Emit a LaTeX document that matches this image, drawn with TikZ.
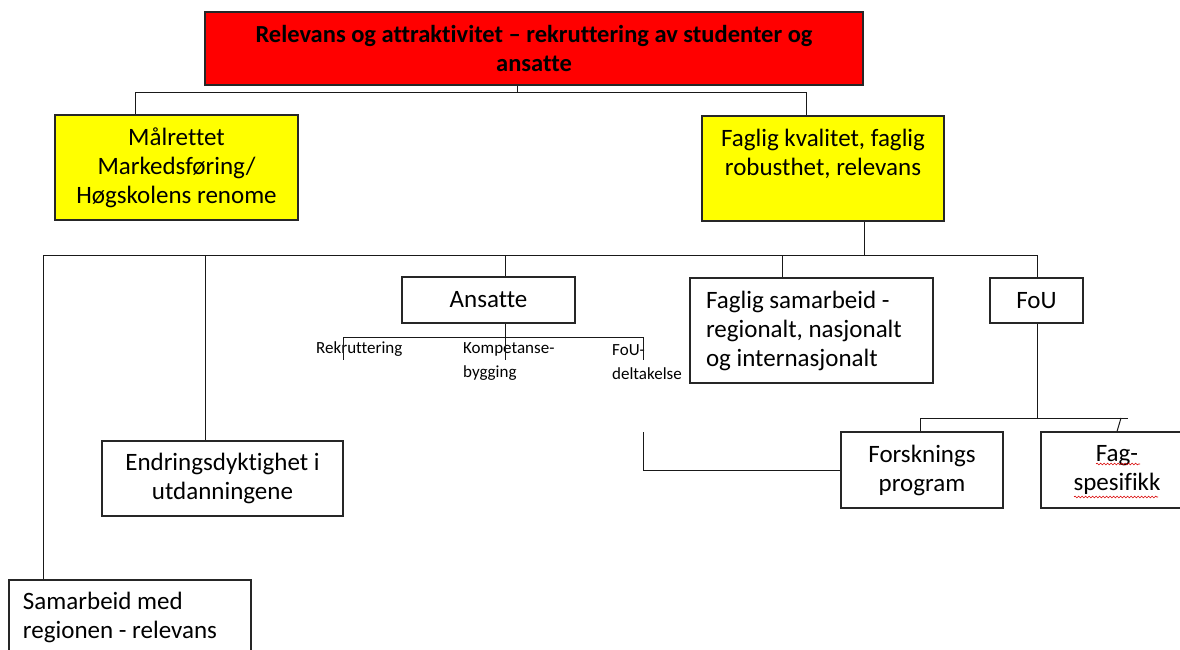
\documentclass[tikz,border=0pt]{standalone}
\usepackage{fontspec}
\setmainfont{Carlito}[Ligatures=NoCommon]
\usetikzlibrary{decorations.pathmorphing}
\definecolor{boxred}{HTML}{FF0000}
\definecolor{boxyellow}{HTML}{FFFF00}
\tikzset{
  box/.style={draw=black!85, line width=1.1pt, inner sep=0pt, align=center,
    font=\fontsize{25}{29}\selectfont},
  conn/.style={draw=black!90, line width=1pt},
  small/.style={inner sep=0pt, align=flush left, font=\fontsize{17}{24}\selectfont},
  squig/.style={draw=red!85!black, line width=0.6pt, decorate,
    decoration={snake, amplitude=0.9pt, segment length=3.5pt}}
}
\begin{document}
\begin{tikzpicture}[x=1pt,y=-1pt]
\useasboundingbox (0,0) rectangle (1180,650);
\fill[white] (0,0) rectangle (1180,650);
\clip (0,0) rectangle (1180,650);

% nodes
\node[box, fill=boxred, minimum width=658, minimum height=73,
  font=\fontsize{24.5}{29}\selectfont\bfseries] (red) at (534,48.5)
  {Relevans og attraktivitet – rekruttering av studenter og\\ansatte};
\node[box, fill=boxyellow, minimum width=243, minimum height=105] (ly) at (176.5,167.5)
  {Målrettet\\Markedsføring/\\Høgskolens renome};
\node[box, fill=boxyellow, minimum width=242, minimum height=105] (ry) at (823,168.5)
  {\rule{0pt}{22pt}Faglig kvalitet, faglig\\robusthet, relevans\\\strut};
\node[box, minimum width=173, minimum height=46] (ans) at (488.5,300) {Ansatte};
\node[box, minimum width=243, minimum height=105, text width=211, align=flush left] (fs) at (811.5,330.5)
  {Faglig samarbeid -\\regionalt, nasjonalt\\og internasjonalt};
\node[box, minimum width=93, minimum height=45] (fou) at (1036.5,300.5) {FoU};
\node[box, minimum width=241, minimum height=75] (end) at (222.5,478.5)
  {Endringsdyktighet i\\utdanningene};
\node[box, minimum width=242, minimum height=75, text width=214, align=flush left] (sam) at (130,617.5)
  {Samarbeid med\\regionen - relevans};
\node[box, minimum width=162, minimum height=76] (fp) at (922,470)
  {Forsknings\\program};
\node[box, minimum width=152, minimum height=76] (fag) at (1117,470)
  {Fag-\\spesifikk};

\node[small, anchor=west] (rek) at (316,349) {Rekruttering};
\node[small, anchor=west] (komp) at (463,362) {Kompetanse-\\bygging};
\node[small, anchor=west] (foud) at (612,362) {FoU-\\deltakelse};

% coordinates
\coordinate (b0) at (517,93);
\coordinate (b1) at (135,93);
\coordinate (b2) at (806,93);
\coordinate (c0) at (864,255);
\coordinate (c1) at (43,255);
\coordinate (c2) at (205,255);
\coordinate (c3) at (505,255);
\coordinate (c4) at (782,255);
\coordinate (c5) at (1037,255);
\coordinate (d0) at (505,337);
\coordinate (d1) at (343,337);
\coordinate (d3) at (643,337);
\coordinate (e1) at (343,360);
\coordinate (e2) at (505,360);
\coordinate (e3) at (643,360);
\coordinate (f0) at (1037,418);
\coordinate (f1) at (920,418);
\coordinate (f2) at (1128,418);
\coordinate (f3) at (1121,418);
\coordinate (g) at (1117,432);
\coordinate (h) at (643,432);

% connectors
\draw[conn] (b0 |- red.south) -- (b0);
\draw[conn] (b1 |- ly.north) -- (b1) -- (b2) -- (b2 |- ry.north);
\draw[conn] (c0 |- ry.south) -- (c0);
\draw[conn] (c1 |- sam.north) -- (c1) -- (c5) -- (c5 |- fou.north);
\draw[conn] (c2) -- (c2 |- end.north);
\draw[conn] (c3) -- (c3 |- ans.north);
\draw[conn] (c4) -- (c4 |- fs.north);
\draw[conn] (d0 |- ans.south) -- (d0);
\draw[conn] (d1) -- (d3);
\draw[conn] (d1) -- (e1);
\draw[conn] (d0) -- (e2);
\draw[conn] (d3) -- (e3);
\draw[conn] (f0 |- fou.south) -- (f0);
\draw[conn] (f1 |- fp.north) -- (f1) -- (f2);
\draw[conn] (f3) -- (g |- fag.north);
\draw[conn] (h) |- (fp.west);

% spelling squiggles
\draw[squig] (1096,464) -- (1140,464);
\draw[squig] (1074,497) -- (1158,497);
\end{tikzpicture}
\end{document}
